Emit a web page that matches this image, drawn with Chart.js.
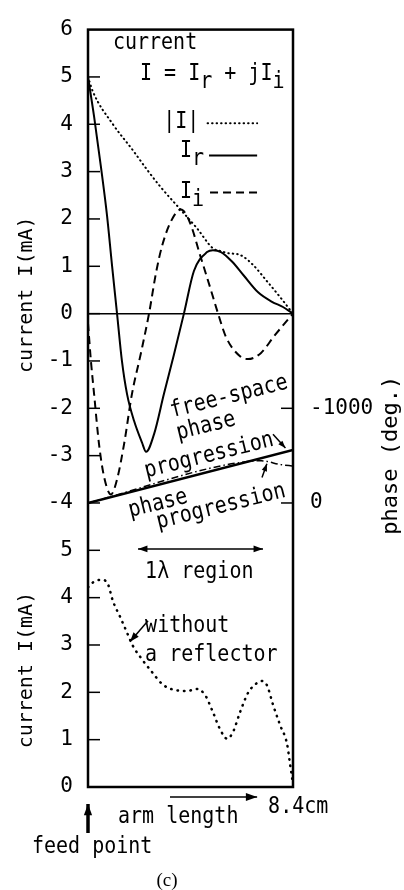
<!DOCTYPE html>
<html>
<head>
<meta charset="utf-8">
<script src="https://cdn.jsdelivr.net/npm/chart.js@4.4.0/dist/chart.umd.min.js"></script>
<style>
  html, body { margin: 0; padding: 0; background: #fff; }
  #wrap { width: 404px; height: 890px; }
</style>
</head>
<body>
<div id="wrap"><canvas id="chart" width="404" height="890"></canvas></div>
<script>
// Current along the arm (cm -> mA)
const absX = [0, 0.2, 1.02, 1.84, 2.42, 2.95, 3.77, 4.47, 5.12, 5.45, 5.7, 6.23, 6.76, 7.34, 7.87, 8.4];
const absI = [5.0, 4.69, 4.0, 3.45, 3.04, 2.69, 2.21, 1.80, 1.38, 1.32, 1.28, 1.24, 1.03, 0.68, 0.35, 0];

const realX = [0, 0.25, 0.53, 0.78, 0.98, 1.19, 1.39, 1.6, 1.89, 2.21, 2.38, 2.71, 3.11, 3.52, 3.93, 4.34, 4.88, 5.12, 5.45, 5.9, 6.39, 6.97, 7.54, 7.99, 8.4];
const realI = [5.0, 4.16, 3.1, 2.07, 1.04, 0, -1.0, -1.7, -2.27, -2.72, -2.92, -2.54, -1.7, -0.87, 0, 0.9, 1.3, 1.34, 1.3, 1.1, 0.8, 0.45, 0.25, 0.14, 0];

const imagX = [0, 0.12, 0.25, 0.45, 0.66, 0.94, 1.19, 1.48, 1.8, 2.17, 2.5, 2.79, 3.03, 3.4, 3.81, 4.18, 4.59, 5.0, 5.33, 5.66, 6.23, 6.56, 7.09, 7.62, 8.2, 8.4];
const imagI = [-0.2, -1.0, -1.7, -2.75, -3.45, -3.82, -3.5, -2.75, -1.7, -0.83, 0, 0.87, 1.42, 1.95, 2.2, 1.92, 1.24, 0.56, 0, -0.5, -0.9, -0.96, -0.83, -0.48, -0.12, 0];

// phase (deg.) on the right axis
const freePhaseX = [0, 8.4];
const freePhase = [0, -560];
const measPhaseX = [0, 6.6, 7.1, 7.9, 8.4];
const measPhase = [0, -440, -445, -405, -390];

// lower panel: current without a reflector
const noReflX = [0, 0.2, 0.57, 0.82, 1.02, 1.31, 1.6, 1.84, 2.21, 2.62, 3.07, 3.56, 4.06, 4.47, 4.8, 5.12, 5.41, 5.7, 5.94, 6.23, 6.56, 6.93, 7.13, 7.34, 7.58, 7.87, 8.16, 8.28, 8.36, 8.4];
const noReflI = [4.22, 4.32, 4.38, 4.28, 3.93, 3.6, 3.26, 2.98, 2.7, 2.43, 2.16, 2.05, 2.03, 2.07, 1.94, 1.58, 1.22, 1.02, 1.16, 1.58, 1.99, 2.2, 2.24, 2.14, 1.74, 1.31, 0.9, 0.48, 0.2, 0.05];

// shared left axis runs 6 .. -10; the lower panel's 0 sits at -10
const yMax = 6;
const yMin = -10;
const lowerOffset = -10;
const leftTickLabels = ['6', '5', '4', '3', '2', '1', '0', '-1', '-2', '-3', '-4', '5', '4', '3', '2', '1', '0'];

// phase axis: 0 deg at current -4, -1000 deg at current -2
const phaseZeroAt = -4;
const degPerUnit = 500;
const phaseTicks = [-1000, 0];

const FONT = '20px "DejaVu Sans Mono"';
const STRETCH = 1.15; // the figure's lettering is taller than DejaVu

const pts = (xs, ys, off = 0) => xs.map((x, i) => ({ x: x, y: ys[i] + off }));

function line(ctx, x1, y1, x2, y2) {
  ctx.beginPath();
  ctx.moveTo(x1, y1);
  ctx.lineTo(x2, y2);
  ctx.stroke();
}

function head(ctx, x1, y1, x2, y2, size) {
  const a = Math.atan2(y2 - y1, x2 - x1);
  ctx.beginPath();
  ctx.moveTo(x2, y2);
  ctx.lineTo(x2 - size * Math.cos(a - 0.35), y2 - size * Math.sin(a - 0.35));
  ctx.lineTo(x2 - size * Math.cos(a + 0.35), y2 - size * Math.sin(a + 0.35));
  ctx.closePath();
  ctx.fill();
}

function arrow(ctx, x1, y1, x2, y2, size = 9, both = false) {
  line(ctx, x1, y1, x2, y2);
  head(ctx, x1, y1, x2, y2, size);
  if (both) head(ctx, x2, y2, x1, y1, size);
}

function text(ctx, str, x, y, opt = {}) {
  ctx.save();
  ctx.translate(x, y);
  if (opt.rot) ctx.rotate(opt.rot * Math.PI / 180);
  ctx.scale(1, opt.stretch || STRETCH);
  ctx.font = opt.font || FONT;
  ctx.textAlign = opt.align || 'left';
  ctx.textBaseline = opt.base || 'alphabetic';
  ctx.fillText(str, 0, 0);
  ctx.restore();
}

// text with subscripts, parts = [{t, sub}]
function rich(ctx, parts, x, y) {
  ctx.save();
  ctx.font = FONT;
  let cx = x;
  parts.forEach(p => {
    text(ctx, p.t, cx, y + (p.sub ? 8 : 0));
    cx += ctx.measureText(p.t).width;
  });
  ctx.restore();
}

const decor = {
  id: 'decor',
  afterDraw(chart) {
    const { ctx, chartArea: ca, scales } = chart;
    const X = v => scales.x.getPixelForValue(v);
    const Y = v => scales.y.getPixelForValue(v);
    const P = v => scales.phase.getPixelForValue(v);
    ctx.save();
    ctx.strokeStyle = '#000';
    ctx.fillStyle = '#000';

    // frame
    ctx.lineWidth = 2.5;
    ctx.strokeRect(ca.left, ca.top, ca.right - ca.left, ca.bottom - ca.top);

    // inward ticks
    ctx.lineWidth = 1.5;
    scales.y.ticks.forEach(t => {
      if (t.value >= yMax || t.value <= yMin) return;
      const y = Y(t.value);
      line(ctx, ca.left, y, ca.left + 12, y);
    });
    phaseTicks.forEach(v => {
      const y = P(v);
      line(ctx, ca.right - 12, y, ca.right, y);
    });

    // axis titles
    text(ctx, 'current I(mA)', 27, Y(0.4), { rot: -90, align: 'center', base: 'middle', stretch: 1 });
    text(ctx, 'current I(mA)', 27, Y(-7.53), { rot: -90, align: 'center', base: 'middle', stretch: 1 });
    text(ctx, 'phase (deg.)', 391, P(-505), { rot: -90, align: 'center', base: 'middle', stretch: 1, font: '22px "DejaVu Sans Mono"' });

    // header and legend
    text(ctx, 'current', X(1.02), Y(5.59));
    rich(ctx, [{ t: 'I = I' }, { t: 'r', sub: true }, { t: ' + jI' }, { t: 'i', sub: true }], X(2.13), Y(4.93));
    text(ctx, '|I|', X(3.08), Y(3.92));
    rich(ctx, [{ t: 'I' }, { t: 'r', sub: true }], X(3.77), Y(3.30));
    rich(ctx, [{ t: 'I' }, { t: 'i', sub: true }], X(3.77), Y(2.45));
    ctx.lineCap = 'round';
    ctx.lineWidth = 2;
    ctx.setLineDash([0.5, 4]);
    line(ctx, X(4.9), Y(4.02), X(6.93), Y(4.02));
    ctx.setLineDash([]);
    ctx.lineCap = 'butt';
    line(ctx, X(4.96), Y(3.34), X(6.93), Y(3.34));
    ctx.setLineDash([8, 5]);
    line(ctx, X(5.0), Y(2.56), X(6.93), Y(2.56));
    ctx.setLineDash([]);

    // phase labels
    text(ctx, 'free-space', X(5.78), Y(-1.76), { rot: -14, align: 'center', base: 'middle' });
    text(ctx, 'phase', X(4.84), Y(-2.38), { rot: -14, align: 'center', base: 'middle' });
    text(ctx, 'progression', X(4.96), Y(-3.0), { rot: -14, align: 'center', base: 'middle' });
    text(ctx, 'phase', X(2.87), Y(-4.02), { rot: -14, align: 'center', base: 'middle' });
    text(ctx, 'progression', X(5.45), Y(-4.08), { rot: -14, align: 'center', base: 'middle' });
    ctx.lineWidth = 1.5;
    arrow(ctx, X(7.58), Y(-2.55), X(8.09), Y(-2.84), 8);
    arrow(ctx, X(7.13), Y(-3.46), X(7.33), Y(-3.17), 8);

    // 1 lambda region
    arrow(ctx, X(2.05), Y(-4.97), X(7.17), Y(-4.97), 10, true);
    text(ctx, '1\u03bb region', X(2.34), Y(-5.59));

    // without a reflector
    text(ctx, 'without', X(2.34), Y(-6.72));
    text(ctx, 'a reflector', X(2.34), Y(-7.34));
    arrow(ctx, X(2.46), Y(-6.49), X(1.72), Y(-6.93), 10);

    // below the frame
    arrow(ctx, X(3.36), ca.bottom + 10, X(6.93), ca.bottom + 10, 12);
    text(ctx, 'arm length', X(1.23), ca.bottom + 36);
    text(ctx, '8.4cm', X(7.38), ca.bottom + 26);
    ctx.lineWidth = 3.5;
    arrow(ctx, X(0), ca.bottom + 46, X(0), ca.bottom + 17, 12);
    text(ctx, 'feed point', 32, ca.bottom + 66);
    text(ctx, '(c)', 167, 886, { font: '19px "Liberation Serif"', align: 'center', stretch: 1 });

    ctx.restore();
  }
};

const ctx = document.getElementById('chart').getContext('2d');
new Chart(ctx, {
  type: 'line',
  data: {
    datasets: [
      {
        label: '|I|',
        data: pts(absX, absI),
        borderColor: '#000',
        borderWidth: 2,
        borderDash: [0.5, 4],
        borderCapStyle: 'round',
        cubicInterpolationMode: 'monotone',
        pointRadius: 0,
        yAxisID: 'y'
      },
      {
        label: 'Ir',
        data: pts(realX, realI),
        borderColor: '#000',
        borderWidth: 2,
        cubicInterpolationMode: 'monotone',
        pointRadius: 0,
        yAxisID: 'y'
      },
      {
        label: 'Ii',
        data: pts(imagX, imagI),
        borderColor: '#000',
        borderWidth: 2,
        borderDash: [8, 5],
        cubicInterpolationMode: 'monotone',
        pointRadius: 0,
        yAxisID: 'y'
      },
      {
        label: 'measured phase',
        data: pts(measPhaseX, measPhase),
        borderColor: '#000',
        borderWidth: 1.5,
        borderDash: [7, 3, 1.5, 3],
        cubicInterpolationMode: 'monotone',
        pointRadius: 0,
        yAxisID: 'phase'
      },
      {
        label: 'free-space phase',
        data: pts(freePhaseX, freePhase),
        borderColor: '#000',
        borderWidth: 2.5,
        pointRadius: 0,
        yAxisID: 'phase'
      },
      {
        label: 'without a reflector',
        data: pts(noReflX, noReflI, lowerOffset),
        borderColor: '#000',
        borderWidth: 2.5,
        borderDash: [0.5, 6],
        borderCapStyle: 'round',
        cubicInterpolationMode: 'monotone',
        pointRadius: 0,
        yAxisID: 'y'
      }
    ]
  },
  options: {
    responsive: false,
    animation: false,
    layout: { padding: { top: 11, bottom: 103, left: 0, right: 0 } },
    plugins: {
      legend: { display: false },
      tooltip: { enabled: false }
    },
    scales: {
      x: {
        type: 'linear',
        min: 0,
        max: 8.4,
        display: false
      },
      y: {
        position: 'left',
        min: yMin,
        max: yMax,
        afterFit: s => { s.width = 88; },
        border: { display: false },
        grid: {
          drawTicks: false,
          lineWidth: 1.5,
          color: c => (c.tick && c.tick.value === 0 ? '#000' : 'rgba(0,0,0,0)')
        },
        ticks: {
          stepSize: 1,
          autoSkip: false,
          padding: 15,
          color: '#000',
          font: { family: 'DejaVu Sans Mono', size: 21 },
          callback: v => leftTickLabels[Math.round(yMax - v)]
        }
      },
      phase: {
        position: 'right',
        min: -(yMax - phaseZeroAt) * degPerUnit,
        max: -(yMin - phaseZeroAt) * degPerUnit,
        reverse: true,
        afterFit: s => { s.width = 111; },
        afterBuildTicks: s => { s.ticks = phaseTicks.map(v => ({ value: v })); },
        border: { display: false },
        grid: { drawOnChartArea: false, drawTicks: false },
        ticks: {
          padding: 17,
          color: '#000',
          font: { family: 'DejaVu Sans Mono', size: 21 },
          callback: v => String(v)
        }
      }
    }
  },
  plugins: [decor]
});
</script>
</body>
</html>
